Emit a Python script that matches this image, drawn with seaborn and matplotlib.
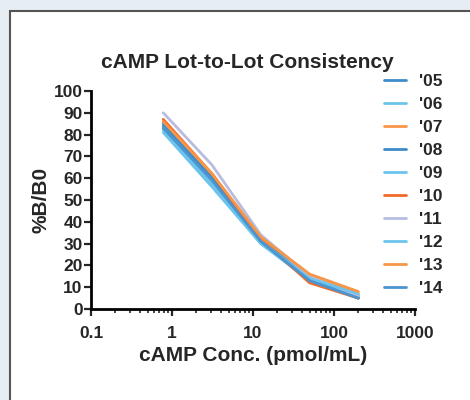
import pandas as pd
import seaborn as sns
import matplotlib.pyplot as plt
from matplotlib.patches import Rectangle

conc = [0.78, 3.125, 12.5, 50, 200]
lots = ["'05", "'06", "'07", "'08", "'09", "'10", "'11", "'12", "'13", "'14"]
b_b0 = {
    "'05": [84, 59, 31, 13, 5],
    "'06": [82, 57, 30, 14, 6],
    "'07": [86, 61, 33, 15, 7],
    "'08": [85, 60, 32, 14, 6],
    "'09": [81, 56, 30, 13, 5],
    "'10": [87, 62, 32, 12, 5],
    "'11": [90, 66, 34, 15, 6],
    "'12": [83, 58, 31, 14, 7],
    "'13": [86, 62, 33, 16, 8],
    "'14": [83, 59, 31, 13, 5],
}
colors = ['#3d8ccb', '#6cc4ec', '#f79646', '#3d8ccb', '#6cc4ec',
          '#f26a2a', '#b8bde0', '#6cc4ec', '#f79646', '#4a94cf']

rows = []
for lot in lots:
    for c, v in zip(conc, b_b0[lot]):
        rows.append({'conc': c, 'val': v, 'lot': lot})
df = pd.DataFrame(rows)

sns.set_style('ticks')
plt.rcParams['font.family'] = ['Liberation Sans', 'DejaVu Sans']
plt.rcParams['font.weight'] = 'bold'

fig = plt.figure(figsize=(4.7, 4.0), dpi=100)
fig.patch.set_facecolor('#e6eef3')
fig.patches.append(Rectangle((10 / 470, -0.05), 1.1, 1 - 11 / 400 + 0.05,
                             transform=fig.transFigure, facecolor='white',
                             edgecolor='#555555', linewidth=1.5, zorder=-1))

ax = fig.add_axes([91 / 470, 1 - 309 / 400, (415 - 91) / 470, (309 - 91) / 400])
ax.set_facecolor('none')
sns.lineplot(data=df, x='conc', y='val', hue='lot', palette=colors,
             linewidth=2, ax=ax, legend=True)

ax.set_xscale('log')
ax.set_xlim(0.1, 1000)
ax.set_ylim(0, 100)
ax.set_yticks(range(0, 101, 10))
ax.set_xticks([0.1, 1, 10, 100, 1000])
ax.set_xticklabels(['0.1', '1', '10', '100', '1000'])
sns.despine(ax=ax)
for s in ['left', 'bottom']:
    ax.spines[s].set_linewidth(2)
    ax.spines[s].set_color('black')
ax.tick_params(axis='both', which='major', length=5, width=1.6, labelsize=12.5)
ax.tick_params(axis='y', which='major', pad=1)
ax.tick_params(axis='x', which='major', pad=7)
ax.tick_params(axis='x', which='minor', length=3, width=1.2)
for lab in ax.get_xticklabels() + ax.get_yticklabels():
    lab.set_fontweight('bold')

ax.set_xlabel('cAMP Conc. (pmol/mL)', fontsize=15, fontweight='bold', labelpad=4)
ax.set_ylabel('%B/B0', fontsize=15, fontweight='bold', labelpad=2)
fig.text(247 / 470, 1 - 62 / 400, 'cAMP Lot-to-Lot Consistency', ha='center',
         va='center', fontsize=15, fontweight='bold')

leg = ax.legend(loc='upper left', bbox_to_anchor=(0.855, 1.15), frameon=False,
                fontsize=12.5, handlelength=1.3, handletextpad=0.75,
                labelspacing=0.45)
for t in leg.get_texts():
    t.set_fontweight('bold')

fig.savefig('out.png', dpi=100)
